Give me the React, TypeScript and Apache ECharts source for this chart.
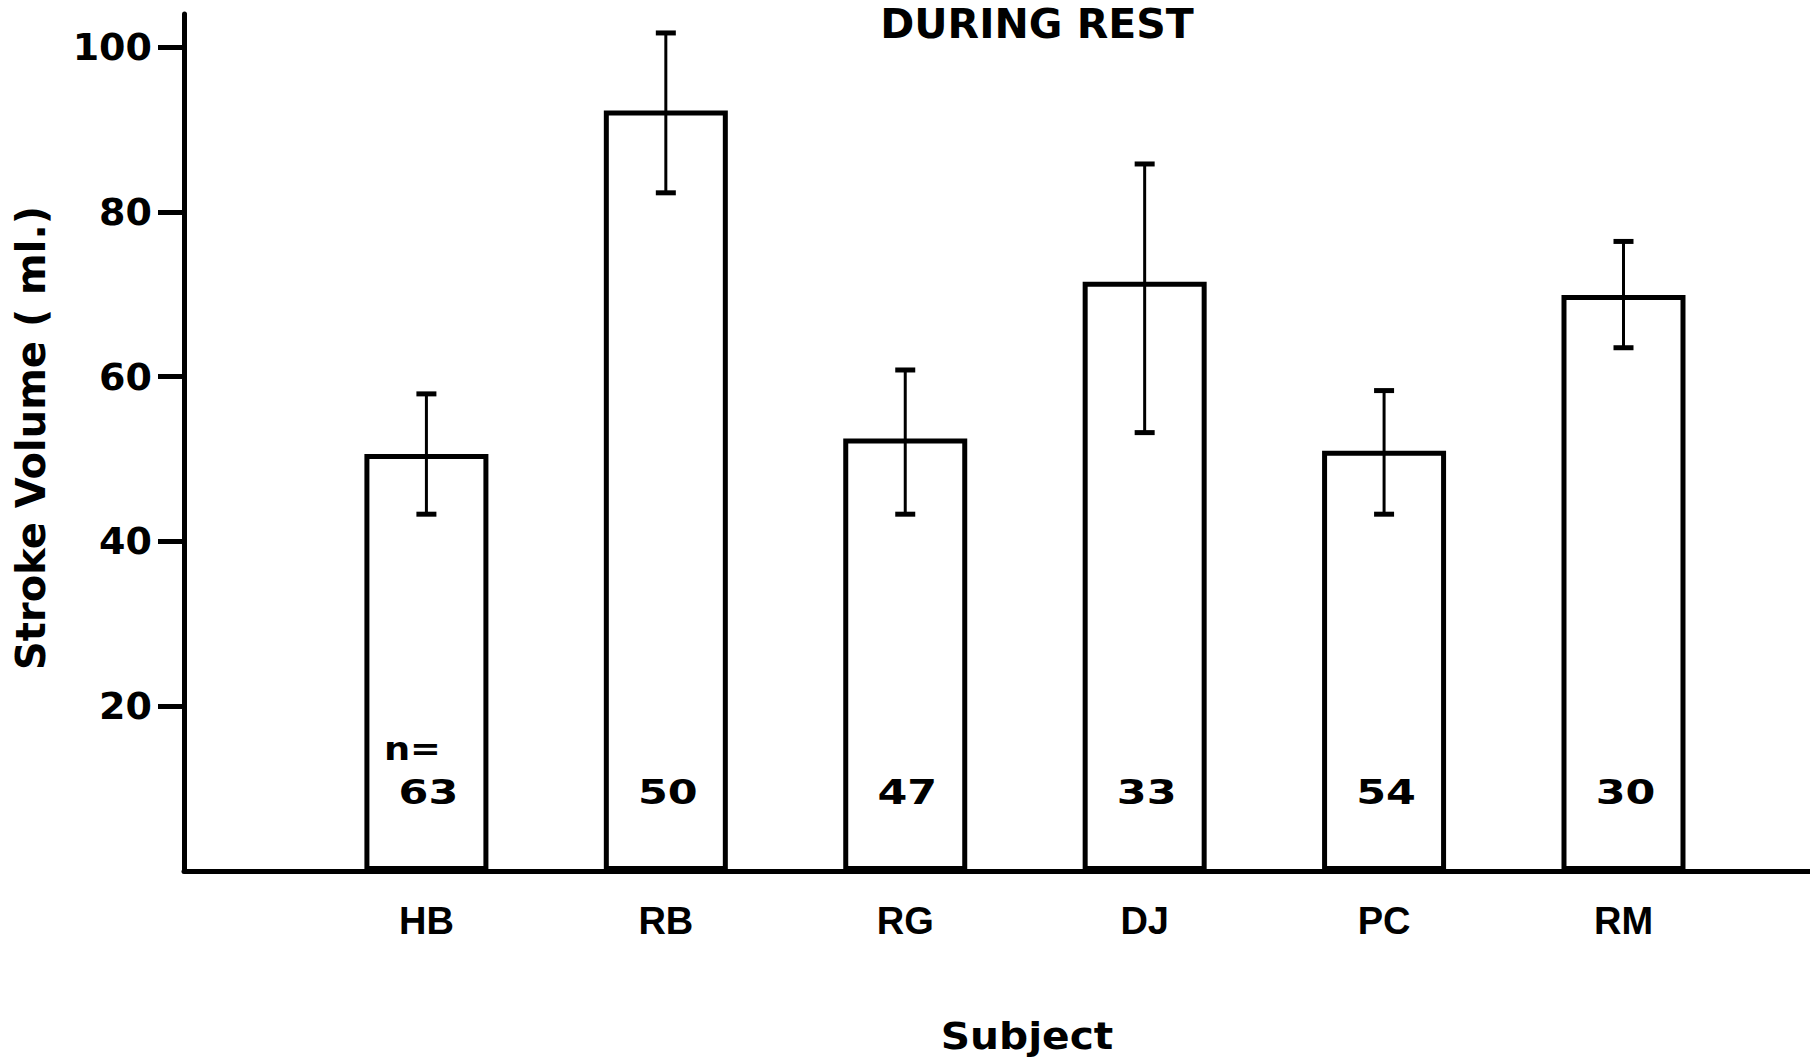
import React, { useEffect, useRef } from "react";
import * as echarts from "echarts";

// ---- data ----
const subjects = ["HB", "RB", "RG", "DJ", "PC", "RM"];
const subjectPos = [1, 2, 3, 4, 5, 6];
const meanStrokeVolume = [50.6, 92.3, 52.5, 71.5, 51.0, 69.9];
const errLow = [43.3, 82.3, 43.3, 53.2, 43.3, 63.5];
const errHigh = [57.9, 101.7, 60.8, 85.8, 58.3, 76.4];
const nCounts = [63, 50, 47, 33, 54, 30];
const yTickValues = [20, 40, 60, 80, 100];
const countLabelY = 9.5;
const nLabelY = 14.8;

const BOLD_FONT = "'DejaVu Sans', 'Liberation Sans', sans-serif";
const LABEL_FONT = "'Liberation Sans', Arial, sans-serif";

export default function App() {
  const ref = useRef<HTMLDivElement>(null);

  useEffect(() => {
    if (!ref.current) return;
    const chart = echarts.init(ref.current, undefined, { renderer: "svg" });

    const option: any = {
      animation: false,
      backgroundColor: "#ffffff",
      title: {
        text: "DURING REST",
        left: 1037,
        top: 3,
        padding: 0,
        textAlign: "center",
        textStyle: {
          fontFamily: BOLD_FONT,
          fontWeight: "bold",
          fontSize: 41,
          color: "#000",
        },
      },
      grid: { left: 184, top: 14, right: 0, bottom: 188, containLabel: false },
      xAxis: {
        type: "value",
        min: -0.0125,
        max: 6.779,
        axisLine: { show: true, onZero: false, lineStyle: { color: "#000", width: 5 } },
        axisTick: { show: false },
        splitLine: { show: false },
        axisLabel: {
          margin: 31,
          customValues: subjectPos,
          formatter: (v: number) => subjects[Math.round(v) - 1] ?? "",
          fontFamily: LABEL_FONT,
          fontWeight: "bold",
          fontSize: 38,
          color: "#000",
        },
      },
      yAxis: {
        type: "value",
        min: 0,
        max: 104,
        axisLine: { show: true, onZero: false, lineStyle: { color: "#000", width: 5 } },
        axisTick: {
          show: true,
          inside: false,
          length: 26,
          customValues: yTickValues,
          lineStyle: { color: "#000", width: 5 },
        },
        splitLine: { show: false },
        axisLabel: {
          margin: 32,
          customValues: yTickValues,
          fontFamily: BOLD_FONT,
          fontWeight: "bold",
          fontSize: 38,
          color: "#000",
        },
      },
      graphic: [
        {
          type: "text",
          x: 31,
          y: 438,
          rotation: Math.PI / 2,
          style: {
            text: "Stroke Volume ( ml.)",
            fontFamily: BOLD_FONT,
            fontWeight: "bold",
            fontSize: 40,
            fill: "#000",
            align: "center",
            verticalAlign: "middle",
          },
        },
        {
          type: "text",
          x: 1027,
          y: 1036,
          scaleX: 1.1,
          style: {
            text: "Subject",
            fontFamily: BOLD_FONT,
            fontWeight: "bold",
            fontSize: 37,
            fill: "#000",
            align: "center",
            verticalAlign: "middle",
          },
        },
      ],
      series: [
        {
          type: "bar",
          data: subjectPos.map((x, i) => [x, meanStrokeVolume[i]]),
          barWidth: 124,
          itemStyle: { color: "#ffffff", borderColor: "#000", borderWidth: 5 },
          z: 2,
        },
        {
          type: "custom",
          data: subjectPos.map((x, i) => [x, errLow[i], errHigh[i]]),
          z: 3,
          renderItem: (params: any, api: any) => {
            const xi = api.value(0);
            const lo = api.coord([xi, api.value(1)]);
            const hi = api.coord([xi, api.value(2)]);
            const cap = 10;
            const st = { stroke: "#000", lineWidth: 3 };
            const capSt = { stroke: "#000", lineWidth: 5 };
            return {
              type: "group",
              children: [
                { type: "line", shape: { x1: hi[0], y1: hi[1], x2: lo[0], y2: lo[1] }, style: st },
                { type: "line", shape: { x1: hi[0] - cap, y1: hi[1], x2: hi[0] + cap, y2: hi[1] }, style: capSt },
                { type: "line", shape: { x1: lo[0] - cap, y1: lo[1], x2: lo[0] + cap, y2: lo[1] }, style: capSt },
              ],
            };
          },
        },
        {
          type: "custom",
          z: 4,
          data: subjectPos.map((x, i) => [x, countLabelY, nCounts[i]]),
          renderItem: (params: any, api: any) => {
            const p = api.coord([api.value(0), api.value(1)]);
            return {
              type: "text",
              x: p[0] + 2,
              y: p[1],
              scaleX: 1.3,
              style: {
                text: String(api.value(2)),
                fontFamily: BOLD_FONT,
                fontWeight: "bold",
                fontSize: 33,
                fill: "#000",
                align: "center",
                verticalAlign: "middle",
              },
            };
          },
        },
        {
          type: "custom",
          z: 4,
          data: [[subjectPos[0], nLabelY]],
          renderItem: (params: any, api: any) => {
            const p = api.coord([api.value(0), api.value(1)]);
            return {
              type: "text",
              x: p[0] - 14,
              y: p[1],
              scaleX: 1.15,
              style: {
                text: "n=",
                fontFamily: BOLD_FONT,
                fontWeight: "bold",
                fontSize: 32,
                fill: "#000",
                align: "center",
                verticalAlign: "middle",
              },
            };
          },
        },
      ],
    };

    chart.setOption(option);
    return () => chart.dispose();
  }, []);

  return (
    <div
      ref={ref}
      style={{ position: "fixed", left: 0, top: 0, width: 1810, height: 1059, background: "#fff" }}
    />
  );
}
